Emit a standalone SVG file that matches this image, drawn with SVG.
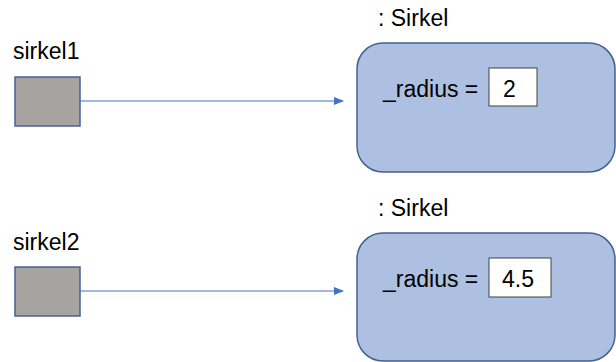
<svg xmlns="http://www.w3.org/2000/svg" width="616" height="362" viewBox="0 0 616 362">
<style>
text{font-family:"Liberation Sans",Arial,sans-serif;font-size:23px;fill:#000}
.var{fill:#A7A3A0;stroke:#4A5F95;stroke-width:1.5}
.obj{fill:#ADC0E1;stroke:#41608F;stroke-width:1.5}
.val{fill:#fff;stroke:#404040;stroke-width:1}
.conn{stroke:#4472C4;stroke-width:1;fill:none}
</style>
<defs>
<marker id="ah" markerWidth="10" markerHeight="8" refX="9" refY="4" orient="auto" markerUnits="userSpaceOnUse">
<path d="M0,0 L10,4 L0,8 Z" fill="#4472C4"/>
</marker>
</defs>
<g id="sirkel1">
<text x="13" y="59">sirkel1</text>
<rect class="var" x="15" y="77" width="65" height="49"/>
</g>
<g id="sirkel2">
<text x="13" y="250">sirkel2</text>
<rect class="var" x="15" y="267" width="65" height="49"/>
</g>
<g id="obj1">
<text x="378" y="26">: Sirkel</text>
<rect class="obj" x="357" y="43" width="258" height="129" rx="26" ry="26"/>
<text x="383" y="97">_radius =</text>
<rect class="val" x="489" y="68" width="48" height="38"/>
<text x="503" y="97">2</text>
</g>
<g id="obj2">
<text x="378" y="216">: Sirkel</text>
<rect class="obj" x="357" y="233" width="258" height="128" rx="26" ry="26"/>
<text x="383" y="287">_radius =</text>
<rect class="val" x="489" y="258" width="62" height="39"/>
<text x="502" y="287">4.5</text>
</g>
<g id="connectors">
<line class="conn" x1="80" y1="101" x2="343" y2="101" marker-end="url(#ah)"/>
<line class="conn" x1="80" y1="291" x2="343" y2="291" marker-end="url(#ah)"/>
</g>
</svg>
